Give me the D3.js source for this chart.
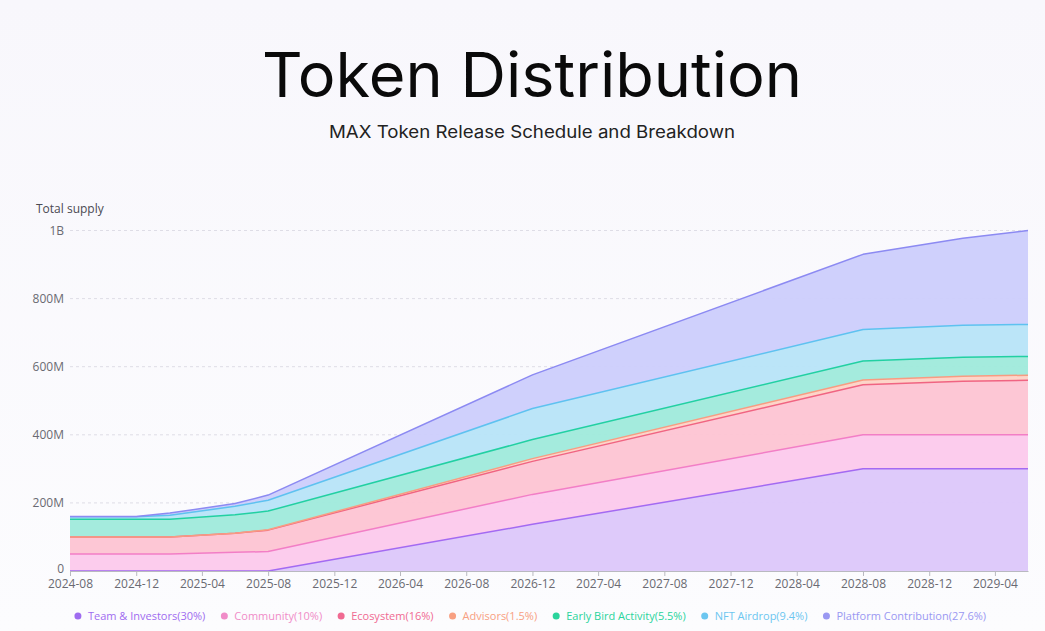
<!DOCTYPE html>
<html>
<head>
<meta charset="utf-8">
<script src="https://cdn.jsdelivr.net/npm/d3@7/dist/d3.min.js"></script>
<style>
  html, body { margin: 0; padding: 0; background: #f9f8fd; }
  svg { display: block; }
</style>
</head>
<body>
<svg id="chart" width="1045" height="631"></svg>
<script>
// ---- data (millions of tokens, per category, not cumulative) ----
const dates = ["2024-08", "2024-12", "2025-02", "2025-06", "2025-08", "2026-12", "2028-08", "2029-02", "2029-06"];
const teamInvestors = [0, 0, 0, 0, 0, 137, 300, 300, 300];
const community     = [50, 50, 50, 55, 57, 88, 100, 100, 100];
const ecosystem     = [50, 50, 50, 56, 63, 97, 147, 157, 160];
const advisors      = [0, 0, 0, 0, 1, 8, 14, 15, 15];
const earlyBird     = [52, 52, 52, 54, 55, 56, 56, 56, 55];
const nftAirdrop    = [7, 7, 12, 25, 32, 91, 92, 94, 94];
const platform      = [1, 1, 6, 8, 15, 99, 221, 255, 276];

const seriesNames = ["Team & Investors(30%)", "Community(10%)", "Ecosystem(16%)", "Advisors(1.5%)",
                     "Early Bird Activity(5.5%)", "NFT Airdrop(9.4%)", "Platform Contribution(27.6%)"];
const seriesValues = [teamInvestors, community, ecosystem, advisors, earlyBird, nftAirdrop, platform];

const xTickLabels = ["2024-08","2024-12","2025-04","2025-08","2025-12","2026-04","2026-08","2026-12",
                     "2027-04","2027-08","2027-12","2028-04","2028-08","2028-12","2029-04"];
const yTickValues = [0, 200, 400, 600, 800, 1000];
const yTickLabels = ["0", "200M", "400M", "600M", "800M", "1B"];

// ---- styles ----
const lineColors = ["#a36af2", "#f27ec6", "#f06482", "#f89c82", "#22d0a2", "#5ec2f0", "#8c8af2"];
const fillColors = ["#dcc7fa", "#fcc9ec", "#fdc4d3", "#fdd3c6", "#9feadb", "#b7e4f8", "#cccdfc"];
const legendColors = ["#9f6cf0", "#f08cc8", "#f06a92", "#f8a082", "#2ad49c", "#6cc6f0", "#9a98f2"];

const parse = d3.utcParse("%Y-%m");
const svg = d3.select("#chart");
const W = 1045, H = 631;

// background
const defs = svg.append("defs");
const bg = defs.append("linearGradient").attr("id", "bg").attr("x1", 0).attr("y1", 0).attr("x2", 0).attr("y2", 1);
bg.append("stop").attr("offset", "0%").attr("stop-color", "#f8f7fc");
bg.append("stop").attr("offset", "100%").attr("stop-color", "#fcfcfe");
svg.append("rect").attr("width", W).attr("height", H).attr("fill", "url(#bg)");

const x = d3.scaleUtc().domain([parse("2024-08"), parse("2029-06")]).range([70, 1028]);
const y = d3.scaleLinear().domain([0, 1000]).range([571, 230.5]);

// title
svg.append("text").attr("x", 532).attr("y", 97).attr("text-anchor", "middle")
  .attr("font-family", "Inter, 'Open Sans', sans-serif").attr("font-size", 62).attr("font-weight", 400)
  .attr("fill", "#0a0a0a").attr("textLength", 540).attr("lengthAdjust", "spacingAndGlyphs")
  .text("Token Distribution");
svg.append("text").attr("x", 532).attr("y", 138).attr("text-anchor", "middle")
  .attr("font-family", "Inter, 'Open Sans', sans-serif").attr("font-size", 17)
  .attr("fill", "#222").attr("textLength", 406).attr("lengthAdjust", "spacingAndGlyphs")
  .text("MAX Token Release Schedule and Breakdown");

// grid
const grid = svg.append("g");
yTickValues.slice(1).forEach(v => {
  grid.append("line").attr("x1", 70).attr("x2", 1028).attr("y1", y(v)).attr("y2", y(v))
    .attr("stroke", "#dedde6").attr("stroke-width", 1).attr("stroke-dasharray", "3,3");
});

// y labels
const fontAxis = "'Open Sans', Inter, sans-serif";
svg.append("g").selectAll("text").data(yTickValues).join("text")
  .attr("x", 64).attr("y", d => y(d) + (d === 0 ? 2 : 4)).attr("text-anchor", "end")
  .attr("font-family", fontAxis).attr("font-size", 12).attr("fill", "#6a6a72")
  .text((d, i) => yTickLabels[i]);
svg.append("text").attr("x", 36).attr("y", 213).attr("font-family", fontAxis)
  .attr("font-size", 12).attr("fill", "#4a4a52").text("Total supply");

// stack
const rows = dates.map((d, i) => {
  const r = { date: parse(d) };
  seriesNames.forEach((n, k) => r[n] = seriesValues[k][i]);
  return r;
});
const stacked = d3.stack().keys(seriesNames)(rows);

const area = d3.area().x(d => x(d.data.date)).y0(d => y(d[0])).y1(d => y(d[1])).curve(d3.curveLinear);
const line = d3.line().x(d => x(d.data.date)).y(d => y(d[1])).curve(d3.curveLinear);

const layers = svg.append("g");
stacked.forEach((s, i) => {
  layers.append("path").datum(s).attr("d", area).attr("fill", fillColors[i]).attr("fill-opacity", 0.95);
});
stacked.forEach((s, i) => {
  layers.append("path").datum(s).attr("d", line).attr("fill", "none")
    .attr("stroke", lineColors[i]).attr("stroke-width", 1.5).attr("stroke-linejoin", "round");
});

// x axis
const xAxis = d3.axisBottom(x).tickValues(xTickLabels.map(parse)).tickFormat(d3.utcFormat("%Y-%m"))
  .tickSize(5).tickSizeOuter(0);
const gx = svg.append("g").attr("transform", "translate(0,571)").call(xAxis);
gx.select(".domain").attr("stroke", "#b9b9c0");
gx.selectAll(".tick line").attr("stroke", "#b9b9c0");
gx.selectAll(".tick text").attr("font-family", fontAxis).attr("font-size", 12)
  .attr("fill", "#6a6a72").attr("y", 8).attr("dy", "0.75em");

// legend
const lg = svg.append("g");
const fontLegend = "'Open Sans', Inter, sans-serif";
const items = [];
seriesNames.forEach((n, i) => {
  const g = lg.append("g");
  g.append("circle").attr("cx", 0).attr("cy", 0).attr("r", 3.5).attr("fill", legendColors[i]);
  const t = g.append("text").attr("x", 10).attr("y", 4).attr("font-family", fontLegend)
    .attr("font-size", 11).attr("fill", legendColors[i]).text(n);
  const w = t.node().getComputedTextLength();
  items.push({ g, w });
});
const gap = 19;
const total = items.reduce((s, it) => s + 10 + it.w, 0) + gap * (items.length - 1);
let start = 532 - total / 2;
items.forEach(it => {
  it.g.attr("transform", `translate(${start},616)`);
  start += 10 + it.w + gap;
});
</script>
</body>
</html>
